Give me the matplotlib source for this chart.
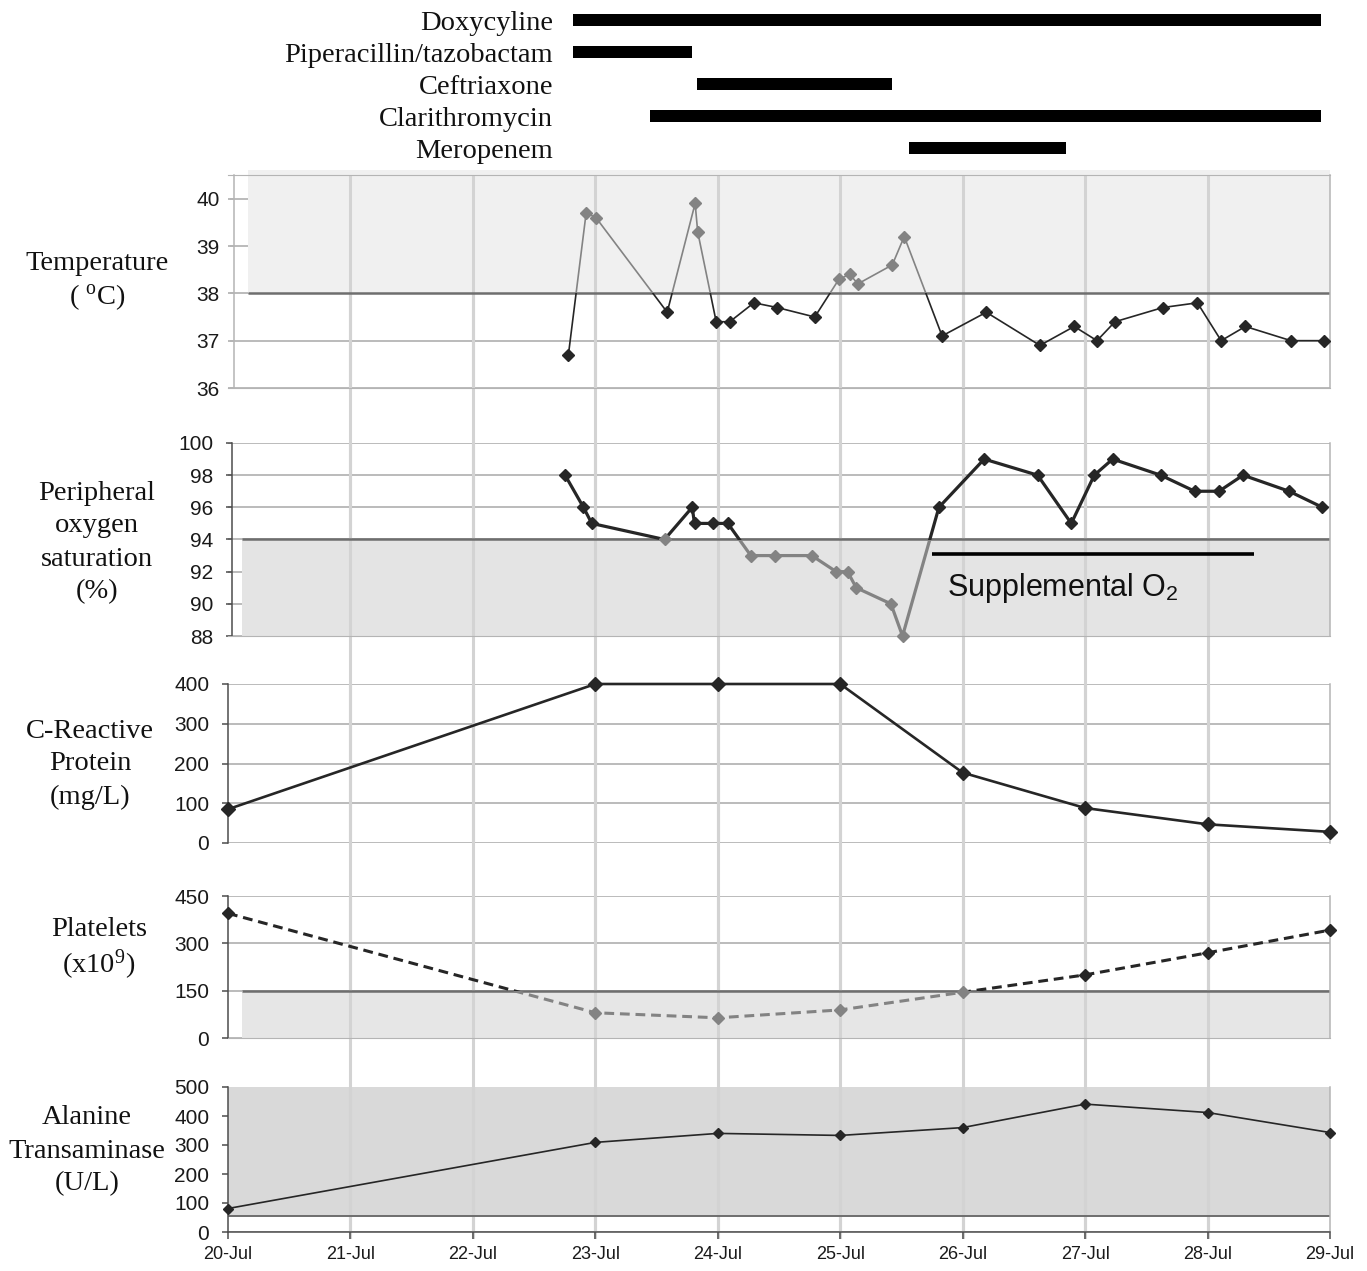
import numpy as np
import matplotlib
matplotlib.use("Agg")
import matplotlib.pyplot as plt
from matplotlib.patches import Rectangle

plt.rcParams["mathtext.fontset"] = "custom"
plt.rcParams["mathtext.rm"] = "Liberation Serif"
plt.rcParams["mathtext.it"] = "Liberation Serif:italic"
plt.rcParams["mathtext.sf"] = "Liberation Sans"
plt.rcParams["font.family"] = ["Liberation Sans", "DejaVu Sans"]

# ---------------- data ----------------
day_labels = ["20-Jul", "21-Jul", "22-Jul", "23-Jul", "24-Jul",
              "25-Jul", "26-Jul", "27-Jul", "28-Jul", "29-Jul"]

drugs = ["Doxycyline", "Piperacillin/tazobactam", "Ceftriaxone",
         "Clarithromycin", "Meropenem"]
drug_start = [2.82, 2.82, 3.83, 3.45, 5.56]
drug_end = [8.93, 3.79, 5.42, 8.93, 6.84]

temp_t = [2.78, 2.925, 3.005, 3.587, 3.815, 3.836, 3.987, 4.098, 4.295, 4.485,
          4.792, 4.990, 5.079, 5.144, 5.425, 5.523, 5.832, 6.193, 6.631, 6.911,
          7.097, 7.244, 7.635, 7.917, 8.111, 8.309, 8.681, 8.949]
temp_v = [36.7, 39.7, 39.6, 37.6, 39.9, 39.3, 37.4, 37.4, 37.8, 37.7,
          37.5, 38.3, 38.4, 38.2, 38.6, 39.2, 37.1, 37.6, 36.9, 37.3,
          37.0, 37.4, 37.7, 37.8, 37.0, 37.3, 37.0, 37.0]
temp_thr = 38

spo2_t = [2.753, 2.903, 2.971, 3.565, 3.791, 3.810, 3.960, 4.082, 4.270, 4.464,
          4.768, 4.967, 5.060, 5.131, 5.414, 5.509, 5.806, 6.176, 6.612, 6.887,
          7.075, 7.225, 7.617, 7.895, 8.094, 8.290, 8.666, 8.938]
spo2_v = [98, 96, 95, 94, 96, 95, 95, 95, 93, 93,
          93, 92, 92, 91, 90, 88, 96, 99, 98, 95,
          98, 99, 98, 97, 97, 98, 97, 96]
spo2_thr = 94
o2_start, o2_end, o2_level = 5.752, 8.382, 93.1

lab_t = [0, 3, 4, 5, 6, 7, 8, 9]
crp_v = [85, 400, 400, 400, 177, 88, 47, 28]
plt_v = [395, 80, 64, 89, 145, 200, 270, 342]
plt_thr = 150
alt_v = [81, 309, 340, 333, 360, 441, 412, 343]
alt_thr = 55

# ---------------- style ----------------
DARK = "#262626"
GREY = "#838383"
GRID_V = "#d3d3d3"
GRID_H = "#a8a8a8"
FRAME = "#b4b4b4"
SPINE = "#4d4d4d"
THR = "#6e6e6e"
SERIF = ["Liberation Serif", "DejaVu Serif"]

W, H = 1367, 1271
fig = plt.figure(figsize=(W / 100, H / 100), dpi=100)


def px_axes(x0, y0, x1, y1, **kw):
    return fig.add_axes([x0 / W, 1 - y1 / H, (x1 - x0) / W, (y1 - y0) / H], **kw)


X0, X1 = 228, 1330
ndays = len(day_labels) - 1

# background vertical grid (shows in gaps between panels)
bg = px_axes(X0, 173, X1, 1239)
bg.set_xlim(0, ndays)
bg.set_ylim(0, 1)
bg.axis("off")
for d in range(1, ndays):
    bg.axvline(d, color=GRID_V, lw=2.2)


def panel(y0, y1, ylim, yticks, left_pos=0.0, left_color=SPINE, pad=9):
    ax = px_axes(X0, y0, X1, y1)
    ax.set_facecolor("none")
    ax.set_xlim(0, ndays)
    ax.set_ylim(*ylim)
    ax.set_yticks(yticks)
    ax.set_xticks([])
    ax.yaxis.grid(True, color=GRID_H, lw=1.1, zorder=1.5)
    ax.set_axisbelow(True)
    for d in range(1, ndays):
        ax.axvline(d, color=GRID_V, lw=2.2, zorder=1.2)
    for s in ax.spines.values():
        s.set_visible(False)
    ax.spines["left"].set_visible(True)
    ax.spines["left"].set_position(("data", left_pos))
    ax.spines["left"].set_color(left_color)
    ax.spines["left"].set_linewidth(1.1)
    ax.spines["right"].set_visible(True)
    ax.spines["right"].set_color(FRAME)
    ax.spines["right"].set_linewidth(1.1)
    ax.tick_params(axis="y", length=4.5, width=1.1, color=left_color, pad=pad,
                   labelsize=15, labelcolor="#1a1a1a")
    return ax


def split_series(ax, t, v, thr, grey_above, lw, ms, ls="-"):
    t = np.asarray(t, float)
    v = np.asarray(v, float)
    big = 1e4
    below = Rectangle((-big, -big), 2 * big, thr + big, transform=ax.transData)
    above = Rectangle((-big, thr), 2 * big, big, transform=ax.transData)
    grey_clip, dark_clip = (above, below) if grey_above else (below, above)
    for color, clip in ((DARK, dark_clip), (GREY, grey_clip)):
        ln, = ax.plot(t, v, color=color, lw=lw, ls=ls, zorder=3)
        ln.set_clip_path(clip)
    gmask = v > thr if grey_above else v <= thr
    ax.plot(t[~gmask], v[~gmask], "D", ms=ms, color=DARK, ls="none", zorder=4, clip_on=False)
    ax.plot(t[gmask], v[gmask], "D", ms=ms, color=GREY, ls="none", zorder=4, clip_on=False)


# ---------------- drug bars ----------------
axd = px_axes(X0, 4, X1, 164)
axd.set_xlim(0, ndays)
axd.set_ylim(len(drugs) - 0.5, -0.5)
axd.axis("off")
ypos = np.arange(len(drugs))
axd.barh(ypos, np.array(drug_end) - np.array(drug_start), left=drug_start,
         height=0.36, color="black")
for i, name in enumerate(drugs):
    axd.text(min(drug_start) - 0.165, i, name, ha="right", va="center_baseline",
             family=SERIF, fontsize=20.5, color="#111111")

# ---------------- temperature ----------------
ax_t = panel(175, 388, (36, 40.5), [36, 37, 38, 39, 40], left_pos=0.05,
             left_color=FRAME, pad=7.5)
ax_t.spines["top"].set_visible(True)
ax_t.spines["top"].set_color(FRAME)
ax_t.spines["bottom"].set_visible(True)
ax_t.spines["bottom"].set_color(FRAME)
ax_t.tick_params(axis="y", length=3)
ax_t.add_patch(Rectangle((0.163, temp_thr), ndays - 0.163, 2.6, facecolor="#f0f0f0",
                         edgecolor="none", zorder=0.8, clip_on=False))
ax_t.hlines(temp_thr, 0.163, ndays, color=THR, lw=1.8, zorder=2)
split_series(ax_t, temp_t, temp_v, temp_thr, True, lw=1.2, ms=6.5)

# ---------------- SpO2 ----------------
ax_s = panel(443, 636, (88, 100), list(range(88, 101, 2)), left_pos=0.033)
ax_s.spines["bottom"].set_visible(True)
ax_s.spines["bottom"].set_color(FRAME)
ax_s.add_patch(Rectangle((0.114, 88), ndays - 0.114, spo2_thr - 88, facecolor="#e4e4e4",
                         edgecolor="none", zorder=0.8))
ax_s.hlines(spo2_thr, 0.114, ndays, color=THR, lw=1.8, zorder=2)
split_series(ax_s, spo2_t, spo2_v, spo2_thr, False, lw=2.3, ms=6.5)
ax_s.hlines(o2_level, o2_start, o2_end, color="black", lw=2.6, zorder=3)
ax_s.text(o2_start + 0.12, 91.25, r"Supplemental O$_{\mathsf{2}}$", ha="left",
          va="center_baseline", fontsize=22, color="#111111",
          family=["Liberation Sans", "DejaVu Sans"], zorder=5)

# ---------------- CRP ----------------
ax_c = panel(684, 843, (0, 400), [0, 100, 200, 300, 400])
ax_c.plot(lab_t, crp_v, color=DARK, lw=1.9, marker="D", ms=7.5, zorder=3, clip_on=False)

# ---------------- Platelets ----------------
ax_p = panel(896, 1038, (0, 450), [0, 150, 300, 450])
ax_p.spines["bottom"].set_visible(True)
ax_p.spines["bottom"].set_color(FRAME)
ax_p.add_patch(Rectangle((0.114, 0), ndays - 0.114, plt_thr, facecolor="#e6e6e6",
                         edgecolor="none", zorder=0.8))
ax_p.hlines(plt_thr, 0.114, ndays, color=THR, lw=1.8, zorder=2)
split_series(ax_p, lab_t, plt_v, plt_thr, False, lw=2.2, ms=6, ls=(0, (3.2, 1.9)))

# ---------------- ALT ----------------
ax_a = panel(1087, 1232, (0, 500), [0, 100, 200, 300, 400, 500])
ax_a.spines["bottom"].set_visible(True)
ax_a.spines["bottom"].set_color(SPINE)
ax_a.spines["bottom"].set_linewidth(1.1)
ax_a.add_patch(Rectangle((0, alt_thr), ndays, 500 - alt_thr, facecolor="#d9d9d9",
                         edgecolor="none", zorder=0.8))
ax_a.hlines(alt_thr, 0, ndays, color=THR, lw=1.4, zorder=2)
ax_a.plot(lab_t, alt_v, color=DARK, lw=1.2, marker="D", ms=4.8, zorder=3, clip_on=False)
ax_a.set_xticks(range(len(day_labels)))
ax_a.set_xticklabels(day_labels)
ax_a.tick_params(axis="x", length=5, width=1.1, color=SPINE, pad=5,
                 labelsize=13, labelcolor="#1a1a1a")

# ---------------- left labels ----------------
left_labels = [
    (97, 260, ["Temperature", r"( $^{\mathrm{o}}$C)"]),
    (97, 490, ["Peripheral", "oxygen", "saturation", "(%)"]),
    (90, 728, ["C-Reactive", "Protein", "(mg/L)"]),
    (99, 927, ["Platelets", r"(x10$^{\mathrm{9}}$)"]),
    (87, 1115, ["Alanine", "Transaminase", "(U/L)"]),
]
for x, y, lines in left_labels:
    for k, line in enumerate(lines):
        fig.text(x / W, 1 - (y + 33 * k) / H, line, ha="center", va="center_baseline",
                 family=SERIF, fontsize=20.5, color="#111111")

fig.savefig("out.png", dpi=100)
